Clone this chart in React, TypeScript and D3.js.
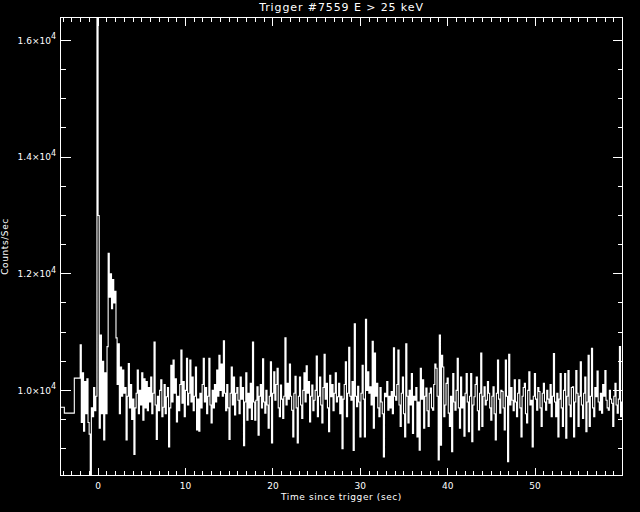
import React from "react";
import * as d3 from "d3";

const W = 640;
const H = 512;

const title = "Trigger #7559 E > 25 keV";
const xTitle = "Time since trigger (sec)";
const yTitle = "Counts/Sec";

// coarse pre-trigger bins (left edges) and their rates
const preEdges = [-4.35, -3.86, -2.72];
const preRates = [9710, 9610, 10210];

// fine bins after -2.048 s
const binStart = -2.048;
const binWidth = 0.128;
const rates = [
  10780, 9450, 10300, 9300, 10150, 9600, 10200, 9450, 9250, 8550, 9700, 9550, 10050, 9650, 9900, 16400, 13000, 9350, 10950, 9600,
  10500, 9150, 10300, 9600, 10750, 12350, 11600, 12000, 11400, 11900, 11500, 11700, 10900, 10100, 10800, 9600, 10400, 9900, 10350, 9950,
  10050, 9150, 9900, 10460, 9700, 10100, 9500, 9850, 8900, 9700, 9950, 10350, 9600, 10000, 9750, 10300, 9490, 10200, 9700, 10150,
  9650, 10050, 9800, 10230, 9600, 9950, 10830, 9750, 9160, 9900, 9650, 10000, 10180, 9550, 9710, 10100, 9600, 9890, 10050, 9030,
  9700, 10430, 9800, 10520, 9950, 10200, 9460, 9900, 9650, 10100, 10690, 9780, 10150, 9550, 10000, 10550, 9750, 9950, 10520, 9800,
  10230, 9650, 9900, 10400, 9320, 9850, 9300, 9950, 9700, 10100, 10550, 9800, 10050, 9600, 9900, 10550, 9750, 9440, 10000, 9700,
  10100, 9800, 10350, 9900, 10600, 10000, 10450, 9900, 10850, 9950, 9650, 10100, 9700, 9160, 9950, 10400, 9750, 10230, 9580, 9950,
  10050, 9830, 9600, 10230, 9850, 10050, 9050, 9800, 10300, 9490, 9950, 9700, 10120, 9500, 10830, 9800, 9490, 9830, 10060, 9230,
  9900, 10100, 9700, 10540, 9800, 9610, 10000, 9750, 9350, 9900, 10490, 9100, 9950, 10320, 9830, 10100, 10380, 9700, 9550, 10090,
  9850, 9520, 9900, 10900, 9750, 10120, 9850, 10450, 9900, 9660, 9200, 9950, 10240, 9700, 9100, 9900, 10230, 9750, 9520, 10000,
  10300, 9800, 10420, 9950, 10150, 9460, 9900, 10090, 9650, 9830, 10000, 10590, 9550, 9900, 10230, 9750, 9440, 10050, 10620, 9850,
  10120, 9700, 9290, 10260, 9890, 10100, 9650, 9950, 10300, 9800, 9890, 10120, 9600, 9900, 9000, 9850, 10100, 10490, 9550, 9950,
  10740, 9900, 9830, 10150, 8970, 11140, 9900, 9720, 10070, 9800, 9200, 9950, 10430, 9850, 9200, 11220, 10000, 10320, 9950, 10060,
  9750, 10840, 9350, 10640, 9900, 10120, 9700, 9550, 10050, 9800, 9600, 8860, 9950, 9890, 10150, 9660, 9900, 9700, 9980, 9600,
  10730, 9900, 9830, 10100, 10690, 9750, 9380, 9950, 10230, 9600, 9200, 10800, 9900, 9440, 10000, 9750, 10290, 9260, 9900, 9830,
  10050, 9200, 9800, 8975, 10380, 9850, 10180, 9350, 9900, 10040, 9650, 9380, 9950, 10040, 9700, 9660, 10100, 10450, 10380, 9900,
  8805, 10950, 9060, 10600, 10400, 9550, 9750, 10120, 10210, 9610, 9380, 9900, 8950, 10290, 9800, 9660, 10000, 10550, 9700, 9350,
  10230, 9700, 9890, 9215, 9950, 10290, 9800, 9290, 9900, 10290, 9120, 9750, 9890, 10100, 10230, 9650, 9320, 9950, 10640, 9380,
  9900, 10060, 9750, 9830, 10150, 9950, 9700, 9490, 9900, 10060, 9600, 9150, 9950, 10520, 9850, 9610, 10000, 9980, 9700, 9320,
  10520, 9900, 8775, 10620, 9750, 10050, 9830, 9650, 10180, 9800, 9550, 9950, 10180, 9700, 9200, 9900, 10050, 10120, 9600, 9440,
  10000, 10320, 9750, 9830, 9030, 9900, 10290, 9850, 9660, 10050, 9980, 9700, 9380, 9950, 10120, 9800, 9660, 10000, 9850, 9780,
  10100, 9550, 9900, 10630, 9800, 9550, 9950, 9200, 9850, 10290, 9700, 9380, 10000, 10290, 9180, 9900, 10340, 9750, 9550, 10050,
  10060, 9200, 9800, 10340, 9950, 9380, 9900, 10490, 9750, 9520, 9950, 10230, 9290, 9800, 10600, 9380, 9900, 10720, 9700, 9550,
  10050, 9890, 10330, 9800, 9660, 9950, 9610, 10100, 9900, 10340, 9830, 9700, 9660, 10000, 9850, 9780, 9380, 9900, 10120, 9750,
  9610, 9850, 10750, 9550, 9800,
];

const xMajor = [0, 10, 20, 30, 40, 50];
const yMajor = [10000, 12000, 14000, 16000];
const yLabels = ["1.0", "1.2", "1.4", "1.6"];

const font = "DejaVu Sans";

export default function App() {
  const x = d3.scaleLinear().domain([-4.3, 60]).range([60.5, 622.5]);
  const y = d3.scaleLinear().domain([8540, 16395]).range([475.5, 17.5]);
  const [x0, x1] = x.range();
  const [yb, yt] = y.range();

  const xMinor = d3.range(-4, 60, 1).filter((t) => !xMajor.includes(t));
  const yMinor = d3.range(9000, 16500, 500).filter((v) => !yMajor.includes(v));

  // step curve: coarse bins, then fine bins, then closing point
  const pts: [number, number][] = preEdges.map((t, i) => [t, preRates[i]]);
  rates.forEach((r, i) => pts.push([binStart + i * binWidth, r]));
  pts.push([binStart + rates.length * binWidth, rates[rates.length - 1]]);

  const line = d3
    .line<[number, number]>()
    .x((d) => x(d[0]))
    .y((d) => y(d[1]))
    .curve(d3.curveStepAfter);

  return (
    <svg
      width={W}
      height={H}
      style={{ position: "absolute", left: 0, top: 0, background: "#000" }}
    >
      <defs>
        <clipPath id="plot">
          <rect x={x0} y={yt} width={x1 - x0} height={yb - yt} />
        </clipPath>
      </defs>
      <rect x={0} y={0} width={W} height={H} fill="#000" />

      <path
        d={line(pts) || ""}
        fill="none"
        stroke="#fff"
        strokeWidth={1.1}
        clipPath="url(#plot)"
      />

      <g stroke="#fff" strokeWidth={1} shapeRendering="crispEdges">
        <rect x={x0} y={yt} width={x1 - x0} height={yb - yt} fill="none" />
        {xMajor.map((t) => (
          <g key={"xm" + t}>
            <line x1={x(t)} x2={x(t)} y1={yb} y2={yb - 8} />
            <line x1={x(t)} x2={x(t)} y1={yt} y2={yt + 8} />
          </g>
        ))}
        {xMinor.map((t) => (
          <g key={"xn" + t}>
            <line x1={x(t)} x2={x(t)} y1={yb} y2={yb - 4.5} />
            <line x1={x(t)} x2={x(t)} y1={yt} y2={yt + 4.5} />
          </g>
        ))}
        {yMajor.map((v) => (
          <g key={"ym" + v}>
            <line x1={x0} x2={x0 + 10} y1={y(v)} y2={y(v)} />
            <line x1={x1} x2={x1 - 10} y1={y(v)} y2={y(v)} />
          </g>
        ))}
        {yMinor.map((v) => (
          <g key={"yn" + v}>
            <line x1={x0} x2={x0 + 5} y1={y(v)} y2={y(v)} />
            <line x1={x1} x2={x1 - 5} y1={y(v)} y2={y(v)} />
          </g>
        ))}
      </g>

      <g fill="#fff" fontFamily={font} fontSize={9}>
        {xMajor.map((t) => (
          <text key={"xl" + t} x={x(t)} y={488.5} textAnchor="middle">
            {t}
          </text>
        ))}
        {yMajor.map((v, i) => (
          <text key={"yl" + v} x={56} y={y(v) + 3.3} textAnchor="end">
            {yLabels[i] + "\u00d710"}
            <tspan dy={-4.5} fontSize={8}>
              4
            </tspan>
          </text>
        ))}
        <text
          x={(x0 + x1) / 2}
          y={500}
          textAnchor="middle"
          letterSpacing={0.6}
        >
          {xTitle}
        </text>
        <text
          transform={`translate(7.5,${(yb + yt) / 2}) rotate(-90)`}
          textAnchor="middle"
          letterSpacing={0.6}
        >
          {yTitle}
        </text>
        <text
          x={(x0 + x1) / 2}
          y={10.5}
          textAnchor="middle"
          fontSize={11}
          letterSpacing={0.9}
        >
          {title}
        </text>
      </g>
    </svg>
  );
}
